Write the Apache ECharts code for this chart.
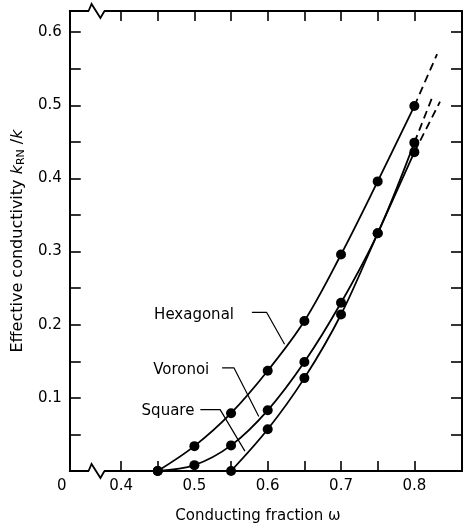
<!DOCTYPE html>
<html><head><meta charset="utf-8">
<script src="https://cdn.jsdelivr.net/npm/echarts@6/dist/echarts.min.js"></script>
<style>html,body{margin:0;padding:0;background:#fff}#c{width:466px;height:529px}</style>
</head><body><div id="c"></div>
<script>
// ---- data ----
const omega     = [0.45, 0.50, 0.55, 0.60, 0.65, 0.70, 0.75, 0.80];
const hexagonal = [0.000, 0.034, 0.079, 0.137, 0.205, 0.296, 0.396, 0.499];
const voronoi   = [0.000, 0.008, 0.035, 0.083, 0.149, 0.230, 0.325, 0.449];
const square    = [null,  null,  0.000, 0.057, 0.127, 0.214, 0.325, 0.436];
// dashed extrapolation end points
const hexExt = [0.831, 0.570];
const vorExt = [0.826, 0.515];
const sqExt  = [0.835, 0.505];
// axis ticks / labels
const xLabelValues = [0.4, 0.5, 0.6, 0.7, 0.8];
const xTickValues  = [0.4, 0.45, 0.5, 0.55, 0.6, 0.65, 0.7, 0.75, 0.8];
const yLabelValues = [0.1, 0.2, 0.3, 0.4, 0.5, 0.6];
const yTickValues  = [0.05, 0.1, 0.15, 0.2, 0.25, 0.3, 0.35, 0.4, 0.45, 0.5, 0.55, 0.6];
const xMin = 0.33, xMax = 0.865, yMin = 0, yMax = 0.629;
const breakRange = [0.357, 0.376];
// curve name labels (anchor = right end of text) and leader lines, data units
const labelNames   = ['Hexagonal', 'Voronoi', 'Square'];
const labelAnchors = [[0.554, 0.2127], [0.5203, 0.1382], [0.500, 0.0813]];
const leaderHex = [[0.5784, 0.2168], [0.5986, 0.2168], [0.6230, 0.1734]];
const leaderVor = [[0.5378, 0.1409], [0.5541, 0.1409], [0.5878, 0.0745]];
const leaderSq  = [[0.5081, 0.0840], [0.5351, 0.0840], [0.5689, 0.0271]];

const FONT = 'DejaVu Sans';
const pairs = ys => omega.map((x, i) => [x, ys[i]]).filter(p => p[1] !== null);
const last = arr => arr[arr.length - 1];

function curve(name, ys) {
  return {
    name, type: 'line', data: pairs(ys), smooth: 0.35,
    symbol: 'circle', symbolSize: 10, showSymbol: true,
    itemStyle: { color: '#000' }, lineStyle: { color: '#000', width: 1.8 },
    z: 3, animation: false
  };
}
function dashed(ys, end) {
  const p = pairs(ys);
  return {
    type: 'line', data: [last(p), end], symbol: 'none',
    lineStyle: { color: '#000', width: 1.8, type: [8, 5] }, animation: false
  };
}
function leader(pts) {
  return {
    type: 'line', data: pts, symbol: 'none', silent: true,
    lineStyle: { color: '#000', width: 1.2 }, animation: false
  };
}

const axisLineStyle = { onZero: false, lineStyle: { color: '#000', width: 2 } };
const tickStyle = { lineStyle: { color: '#000', width: 1.6 } };

const chart = echarts.init(document.getElementById('c'), null, { renderer: 'canvas' });
chart.setOption({
  animation: false,
  backgroundColor: '#fff',
  grid: { left: 66, top: 11, right: 4, bottom: 54, containLabel: false },
  xAxis: [{
    type: 'value', min: xMin, max: xMax, position: 'bottom',
    axisLine: axisLineStyle,
    axisTick: { show: true, inside: true, length: 10, customValues: xTickValues, ...tickStyle },
    axisLabel: {
      customValues: [xMin].concat(xLabelValues), margin: 8,
      color: '#000', fontFamily: FONT, fontSize: 15,
      formatter: v => v < 0.35 ? '{z|0}' : v.toFixed(1),
      rich: { z: { fontFamily: FONT, fontSize: 15, color: '#000', padding: [0, 16, 0, 0] } }
    },
    splitLine: { show: false },
    name: 'Conducting fraction ω', nameLocation: 'middle', nameGap: 38,
    nameTextStyle: { color: '#000', fontFamily: FONT, fontSize: 15, padding: [0, 16, 0, 0] }
  }, {
    type: 'value', min: xMin, max: xMax, position: 'top',
    axisLine: axisLineStyle,
    axisTick: { show: true, inside: true, length: 10, customValues: xTickValues, ...tickStyle },
    axisLabel: { show: false }, splitLine: { show: false }
  }],
  yAxis: [{
    type: 'value', min: yMin, max: yMax, position: 'left',
    axisLine: axisLineStyle,
    axisTick: { show: true, inside: true, length: 11, customValues: yTickValues, ...tickStyle },
    axisLabel: {
      customValues: yLabelValues, margin: 8, color: '#000', fontFamily: FONT, fontSize: 15,
      formatter: v => v.toFixed(1)
    },
    splitLine: { show: false },
    name: 'Effective conductivity {k|k}{s|RN}{n| /}{k|k}',
    nameLocation: 'middle', nameGap: 31,
    nameTextStyle: {
      color: '#000', fontFamily: FONT, fontSize: 16, lineHeight: 19,
      rich: {
        k: { fontFamily: FONT, fontSize: 16, fontStyle: 'italic', color: '#000', lineHeight: 19 },
        s: { fontFamily: FONT, fontSize: 11, color: '#000', lineHeight: 11, verticalAlign: 'bottom' },
        n: { fontFamily: FONT, fontSize: 16, color: '#000', lineHeight: 19 }
      }
    }
  }, {
    type: 'value', min: yMin, max: yMax, position: 'right',
    axisLine: axisLineStyle,
    axisTick: { show: true, inside: true, length: 11, customValues: yTickValues, ...tickStyle },
    axisLabel: { show: false }, splitLine: { show: false }
  }],
  series: [
    curve('Hexagonal', hexagonal),
    curve('Voronoi', voronoi),
    curve('Square', square),
    dashed(hexagonal, hexExt),
    dashed(voronoi, vorExt),
    dashed(square, sqExt),
    leader(leaderHex), leader(leaderVor), leader(leaderSq),
    {
      type: 'scatter', symbolSize: 0, silent: true, animation: false,
      itemStyle: { color: '#000', opacity: 1 },
      data: labelNames.map((n, i) => ({ name: n, value: labelAnchors[i] })),
      label: {
        show: true, position: 'left', distance: 0, formatter: '{b}',
        color: '#000', opacity: 1, fontFamily: FONT, fontSize: 15
      }
    }
  ]
});

// axis break marks on bottom and top axes
function breakMarks() {
  const g = [];
  [yMin, yMax].forEach(yv => {
    const a = chart.convertToPixel({ gridIndex: 0 }, [breakRange[0], yv]);
    const b = chart.convertToPixel({ gridIndex: 0 }, [breakRange[1], yv]);
    const w = b[0] - a[0];
    g.push({
      type: 'rect', z: 100,
      shape: { x: a[0] - 0.5, y: a[1] - 2, width: w + 1, height: 4 },
      style: { fill: '#fff' }
    });
    g.push({
      type: 'polyline', z: 101,
      shape: { points: [[a[0] - 1, a[1]], [a[0] + 2, a[1] - 7], [a[0] + w * 0.78, a[1] + 7], [b[0] + 1, a[1]]] },
      style: { stroke: '#000', lineWidth: 1.8, fill: null }
    });
  });
  chart.setOption({ graphic: g });
}
breakMarks();
</script>
</body></html>
